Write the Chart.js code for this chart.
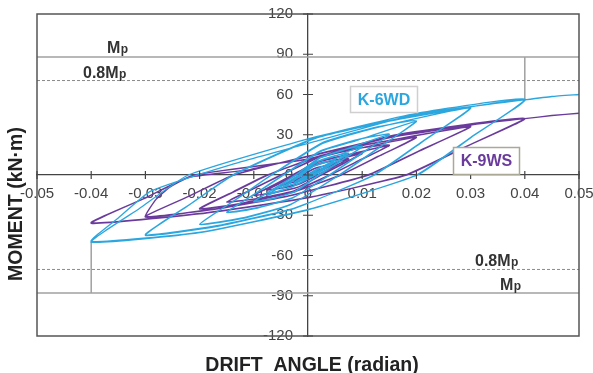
<!DOCTYPE html>
<html>
<head>
<meta charset="utf-8">
<script src="https://cdn.jsdelivr.net/npm/chart.js@4"></script>
<style>
  body { margin: 0; background: #fff; }
  #wrap { width: 593px; height: 373px; }
</style>
</head>
<body>
<div id="wrap"><canvas id="hysteresisChart" width="593" height="373"></canvas></div>
<script>
// Axis ticks
const xTicks = [-0.05, -0.04, -0.03, -0.02, -0.01, 0, 0.01, 0.02, 0.03, 0.04, 0.05];
const xTickLabels = ['-0.05', '-0.04', '-0.03', '-0.02', '-0.01', '0', '0.01', '0.02', '0.03', '0.04', '0.05'];
const yTicks = [-120, -90, -60, -30, 0, 30, 60, 90, 120];

// Plastic moment reference (kN.m)
const mp = 88;
const mp08 = 70.4;
const refDrift = 0.04;
const peakK6WD = 56;
const troughK6WD = -50;

// K-6WD loops (drift, moment)
const driftK6WD = [
    0,
    0.0025, 0.0007, -0.0025, -0.0007, 0.0025, 0.0006, -0.0025, -0.0006,
    0.005, 0.0029, 0.0008, -0.0022, -0.0043, -0.005, -0.0031, -0.0012, 0.001, 0.0033,
    0.005, 0.0028, 0.0007, -0.0023, -0.0044, -0.005, -0.003, -0.0011, 0.0011, 0.0034,
    0.0075, 0.0044, 0.0013, -0.003, -0.0061, -0.0075, -0.0046, -0.0017, 0.0015, 0.0047,
    0.0075, 0.0044, 0.0012, -0.0031, -0.0062, -0.0075, -0.0046, -0.0016, 0.0016, 0.0048,
    0.01, 0.006, 0.0019, -0.0023, -0.0064, -0.01, -0.0062, -0.0023, 0.002, 0.0063,
    0.01, 0.0061, 0.0021, -0.0022, -0.0065, -0.01, -0.0061, -0.0022, 0.0021, 0.0064,
    0.015, 0.0094, 0.0039, -0.0027, -0.0093, -0.015, -0.0098, -0.0046, 0.0023, 0.0091,
    0.015, 0.0095, 0.004, -0.0026, -0.0094, -0.015, -0.0097, -0.0045, 0.0024, 0.0092,
    0.02, 0.0129, 0.0057, -0.0033, -0.0123, -0.02, -0.0134, -0.0068, 0.0026, 0.012,
    0.02, 0.013, 0.0058, -0.0032, -0.0124, -0.02, -0.0133, -0.0067, 0.0027, 0.0121,
    0.03, 0.0211, 0.0121, -0.0026, -0.017, -0.03, -0.022, -0.0139, 0.0015, 0.0168,
    0.03, 0.0212, 0.0123, -0.0025, -0.0171, -0.03, -0.0219, -0.0137, 0.0016, 0.0169,
    0.04, 0.03, 0.02, 0, -0.02, -0.04, -0.0311, -0.0221, 0, 0.02,
    0.04, 0.0301, 0.0202, 0.0002, -0.0198, -0.04, -0.035, -0.029, -0.014, 0.0022, 0.0202,
    0.04, 0.045, 0.05
];
const momentK6WD = [
    0,
    6, 1, -5.5, -1, 6.2, 0.8, -5.6, -0.8,
    11, 5.5, 0, -6, -8.8, -10, -5, 0, 6.6, 9.7,
    11.2, 5, 0, -6, -8.7, -10.2, -5, 0, 6.5, 9.6,
    16, 8, 0, -9, -13.2, -15, -7.5, 0, 9.6, 14,
    16.3, 8.2, 0, -9, -13, -14.8, -7.4, 0, 9.5, 13.8,
    21, 10.5, 0, -12, -17.6, -20, -10, 0, 12.6, 18.5,
    21.5, 10.5, 0, -12.2, -17.4, -19.6, -10, 0, 12.4, 18.3,
    30, 15, 0, -16.8, -24.6, -28, -14, 0, 18, 26.4,
    30.5, 15, 0, -16.5, -24.3, -27.6, -14, 0, 17.6, 26,
    40, 20, 0, -22.2, -32.6, -37, -18.5, 0, 24, 35.2,
    40.5, 20, 0, -21.8, -32.2, -36.6, -18.3, 0, 23.6, 34.8,
    50, 25, 0, -25, -38.5, -45, -22.5, 0, 28, 42,
    50.5, 25, 0, -24.6, -38, -44.5, -22.2, 0, 27.6, 41.6,
    56, 28, 0, -26, -43, -50, -25, 0, 27, 46,
    56.5, 28, 0, -25.5, -42.5, -49.5, -32, -12, 8, 26, 45.6,
    56, 58.5, 60
];

// K-9WS loops (drift, moment)
const driftK9WS = [
    0,
    0.0025, 0.0005, -0.0025, -0.0005, 0.0025, 0.0004, -0.0025, -0.0004,
    0.005, 0.0026, 0.0008, -0.0023, -0.0042, -0.005, -0.0029, -0.0011, 0.0012, 0.0035,
    0.005, 0.0027, 0.0009, -0.0022, -0.0041, -0.005, -0.0028, -0.001, 0.0013, 0.0036,
    0.0075, 0.0047, 0.0018, -0.0015, -0.0047, -0.0075, -0.0049, -0.0023, 0.0011, 0.0044,
    0.0075, 0.0046, 0.0017, -0.0016, -0.0048, -0.0075, -0.0048, -0.0022, 0.0012, 0.0045,
    0.01, 0.0062, 0.0024, -0.0018, -0.0063, -0.01, -0.0064, -0.0029, 0.0016, 0.006,
    0.01, 0.0063, 0.0025, -0.0017, -0.0062, -0.01, -0.0063, -0.0028, 0.0017, 0.0061,
    0.015, 0.0095, 0.004, -0.0027, -0.0093, -0.015, -0.01, -0.005, 0.0018, 0.0085,
    0.015, 0.0096, 0.0041, -0.0026, -0.0092, -0.015, -0.0099, -0.0049, 0.0019, 0.0086,
    0.02, 0.013, 0.006, -0.003, -0.012, -0.02, -0.0138, -0.0075, 0.002, 0.011,
    0.02, 0.0131, 0.0061, -0.0029, -0.0119, -0.02, -0.0137, -0.0074, 0.0021, 0.0111,
    0.03, 0.0205, 0.011, -0.004, -0.018, -0.03, -0.0218, -0.0137, 0.001, 0.016,
    0.03, 0.0206, 0.0112, -0.0039, -0.0179, -0.03, -0.028, -0.0255, -0.0218, -0.0107, 0.0011, 0.0161,
    0.04, 0.029, 0.018, 0, -0.02, -0.04, -0.0305, -0.021, 0, 0.015, 0.028,
    0.04, 0.0291, 0.0182, 0.0001, -0.0199, -0.04, -0.0304, -0.0209, 0.0001, 0.0151, 0.0281,
    0.04, 0.045, 0.05
];
const momentK9WS = [
    0,
    4.5, 0.5, -4, -0.5, 4.6, 0.4, -4.1, -0.4,
    8.5, 3.8, 0, -4.8, -7, -8, -3.8, 0, 5, 7.4,
    8.6, 3.8, 0, -4.7, -6.9, -8.1, -3.7, 0, 4.9, 7.3,
    12, 6, 0, -6.6, -9.7, -11, -5.5, 0, 7.2, 10.6,
    12.2, 6, 0, -6.5, -9.6, -11.2, -5.5, 0, 7.1, 10.5,
    16, 8, 0, -9, -13.2, -15, -7.5, 0, 9.6, 14,
    16.3, 8, 0, -8.8, -13, -15.3, -7.6, 0, 9.4, 13.8,
    22, 11, 0, -12, -17.6, -20, -10, 0, 13, 19.4,
    22.4, 11, 0, -11.8, -17.4, -20.3, -10, 0, 12.8, 19.2,
    28, 14, 0, -13, -21, -25, -12.5, 0, 14, 23,
    28.4, 14, 0, -12.8, -20.8, -25.4, -12.6, 0, 13.8, 22.8,
    36, 18, 0, -16, -26, -31, -15.5, 0, 15, 29,
    36.4, 18, 0, -15.8, -25.7, -31.4, -18, -9, -1.5, 4, 14.8, 28.7,
    42, 21, 0, -17, -29, -36, -18, 0, 12, 29, 37,
    42.4, 21, 0, -16.7, -28.7, -35.6, -17.8, 0, 11.8, 28.7, 36.7,
    42, 44.3, 46
];

const FONT = "'Liberation Sans', Arial, sans-serif";
const BLUE = '#2ba6df';
const PURPLE = '#6a3b9c';

function toPoints(xs, ys) {
    return xs.map(function(x, i) { return { x: x, y: ys[i] }; });
}

// Label with a subscript p, e.g. "Mp" / "0.8Mp"
function drawMpLabel(ctx, main, x, y) {
    ctx.font = 'bold 16px ' + FONT;
    ctx.fillText(main, x, y);
    const w = ctx.measureText(main).width;
    ctx.font = 'bold 12px ' + FONT;
    ctx.fillText('p', x + w + 0.5, y);
}

function drawTag(ctx, text, cx, cy, w, h, color, border) {
    ctx.fillStyle = '#fff';
    ctx.fillRect(cx - w / 2, cy - h / 2, w, h);
    ctx.strokeStyle = border;
    ctx.lineWidth = 1.5;
    ctx.strokeRect(cx - w / 2, cy - h / 2, w, h);
    ctx.fillStyle = color;
    ctx.font = 'bold 16px ' + FONT;
    ctx.textAlign = 'center';
    ctx.textBaseline = 'middle';
    ctx.fillText(text, cx, cy + 1);
}

const decorations = {
    id: 'decorations',
    afterDatasetsDraw: function(chart) {
        const ctx = chart.ctx;
        const area = chart.chartArea;
        const xs = chart.scales.x;
        const ys = chart.scales.y;
        const x0 = xs.getPixelForValue(0);
        const y0 = ys.getPixelForValue(0);
        ctx.save();

        // frame
        ctx.strokeStyle = '#555';
        ctx.lineWidth = 1.5;
        ctx.strokeRect(area.left, area.top, area.right - area.left, area.bottom - area.top);

        // cross tick marks on the centre axes
        ctx.strokeStyle = '#444';
        ctx.lineWidth = 1.2;
        ctx.beginPath();
        xTicks.forEach(function(v) {
            const px = xs.getPixelForValue(v);
            ctx.moveTo(px, y0 - 4);
            ctx.lineTo(px, y0 + 4);
        });
        yTicks.forEach(function(v) {
            const py = ys.getPixelForValue(v);
            ctx.moveTo(x0 - 5, py);
            ctx.lineTo(x0 + 5, py);
        });
        ctx.stroke();

        // Mp labels
        ctx.fillStyle = '#333';
        ctx.textAlign = 'left';
        ctx.textBaseline = 'alphabetic';
        drawMpLabel(ctx, 'M', 107, 53);
        drawMpLabel(ctx, '0.8M', 83, 78);
        drawMpLabel(ctx, '0.8M', 475, 266);
        drawMpLabel(ctx, 'M', 500, 290);

        // specimen tags
        drawTag(ctx, 'K-6WD', 384, 99.5, 67, 26, BLUE, '#cfcfcf');
        drawTag(ctx, 'K-9WS', 486.5, 161, 66, 27, PURPLE, '#aaa996');

        // axis titles
        ctx.fillStyle = '#222';
        ctx.font = 'bold 19.5px ' + FONT;
        ctx.textAlign = 'center';
        ctx.textBaseline = 'alphabetic';
        ctx.fillText('DRIFT  ANGLE (radian)', 312, 371);
        ctx.save();
        ctx.translate(22, 204);
        ctx.rotate(-Math.PI / 2);
        ctx.fillText('MOMENT (kN\u00b7m)', 0, 0);
        ctx.restore();

        ctx.restore();
    }
};

function refLine(points, dashed) {
    return {
        data: points,
        showLine: true,
        pointRadius: 0,
        borderColor: dashed ? '#8a8a8a' : '#a0a0a0',
        borderWidth: dashed ? 1 : 1.5,
        borderDash: dashed ? [3, 2] : [],
        order: 5
    };
}

// centre axes should not push the plot area inward
function noEdgePadding(scale) {
    scale.paddingLeft = 0;
    scale.paddingRight = 0;
    scale.paddingTop = 0;
    scale.paddingBottom = 0;
}

new Chart(document.getElementById('hysteresisChart'), {
    type: 'scatter',
    data: {
        datasets: [
            {
                label: 'K-6WD',
                data: toPoints(driftK6WD, momentK6WD),
                showLine: true,
                pointRadius: 0,
                borderColor: BLUE,
                borderWidth: 1.3,
                tension: 0.15,
                order: 1
            },
            {
                label: 'K-9WS',
                data: toPoints(driftK9WS, momentK9WS),
                showLine: true,
                pointRadius: 0,
                borderColor: PURPLE,
                borderWidth: 1.4,
                tension: 0.15,
                order: 2
            },
            refLine([{ x: -0.05, y: mp }, { x: 0.05, y: mp }], false),
            refLine([{ x: -0.05, y: -mp }, { x: 0.05, y: -mp }], false),
            refLine([{ x: -0.05, y: mp08 }, { x: 0.05, y: mp08 }], true),
            refLine([{ x: -0.05, y: -mp08 }, { x: 0.05, y: -mp08 }], true),
            refLine([{ x: refDrift, y: mp }, { x: refDrift, y: peakK6WD }], false),
            refLine([{ x: -refDrift, y: -mp }, { x: -refDrift, y: troughK6WD }], false)
        ]
    },
    options: {
        responsive: false,
        animation: false,
        layout: {
            padding: { left: 37, right: 14, top: 14, bottom: 37 }
        },
        plugins: {
            legend: { display: false },
            tooltip: { enabled: false }
        },
        scales: {
            x: {
                type: 'linear',
                min: -0.05,
                max: 0.05,
                position: { y: 0 },
                afterBuildTicks: function(scale) {
                    scale.ticks = xTicks.map(function(v) { return { value: v }; });
                },
                afterFit: noEdgePadding,
                grid: { drawOnChartArea: false, drawTicks: false },
                border: { display: true, color: '#444', width: 1.3 },
                ticks: {
                    autoSkip: false,
                    maxRotation: 0,
                    padding: 10,
                    color: '#444',
                    font: { size: 15, family: FONT },
                    callback: function(value, index) {
                        return xTickLabels[index];
                    }
                }
            },
            y: {
                type: 'linear',
                min: -120,
                max: 120,
                position: { x: 0 },
                afterBuildTicks: function(scale) {
                    scale.ticks = yTicks.map(function(v) { return { value: v }; });
                },
                afterFit: noEdgePadding,
                grid: { drawOnChartArea: false, drawTicks: false },
                border: { display: true, color: '#444', width: 1.3 },
                ticks: {
                    autoSkip: false,
                    padding: 0,
                    color: '#444',
                    font: { size: 15, family: FONT },
                    callback: function(value) {
                        return value + '\u2002\u2002';
                    }
                }
            }
        }
    },
    plugins: [decorations]
});
</script>
</body>
</html>
